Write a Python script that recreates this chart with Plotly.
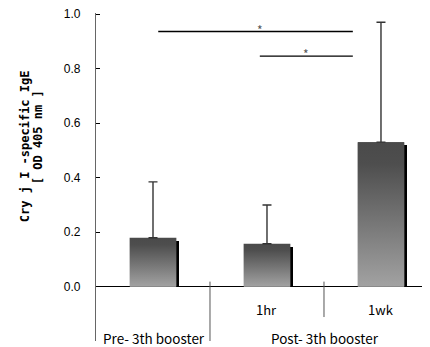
import plotly.graph_objects as go

# ---- data ----
positions = [0, 1, 2]
timepoint_labels = ["", "1hr", "1wk"]
group_labels = ["Pre- 3th booster", "Post- 3th booster"]
group_centers = [0, 1.5]
means = [0.179, 0.157, 0.530]
sd_upper = [0.205, 0.142, 0.440]
y_ticks = [0.0, 0.2, 0.4, 0.6, 0.8, 1.0]
sig_pairs = [(0.046, 1.753, 0.936), (0.937, 1.753, 0.846)]
sig_star_x = [0.937, 1.345]
title_lines = ["Cry j I -specific IgE", "[ OD 405 nm ]"]

BAR_W = 0.41
SHADOW_DX = 0.024
SHADOW_DY = 0.011
PAGE_OFF = 8  # default body margin of the html page

fig = go.Figure()

# shadow bars
fig.add_trace(go.Bar(
    x=positions, y=[m - SHADOW_DY for m in means], width=BAR_W,
    offset=-BAR_W / 2 + SHADOW_DX, marker=dict(color="black", line=dict(width=0)),
    hoverinfo="skip", showlegend=False))

# main bars (base colour)
fig.add_trace(go.Bar(
    x=positions, y=means, width=BAR_W, offset=-BAR_W / 2,
    marker=dict(color="#707070", line=dict(width=0)),
    showlegend=False))

# gradient overlay for each bar (dark top, light bottom)
for p, m in zip(positions, means):
    x0, x1 = p - BAR_W / 2, p + BAR_W / 2
    fig.add_trace(go.Scatter(
        x=[x0, x1, x1, x0, x0], y=[0, 0, m, m, 0], mode="lines",
        line=dict(width=0), fill="toself",
        fillgradient=dict(type="vertical",
                          colorscale=[[0, "#a2a2a2"], [0.85, "#4e4e4e"], [1, "#4a4a4a"]]),
        hoverinfo="skip", showlegend=False))

# error bars (upper only)
fig.add_trace(go.Scatter(
    x=positions, y=means, mode="markers", marker=dict(size=1, opacity=0),
    error_y=dict(type="data", symmetric=False, array=sd_upper,
                 arrayminus=[0, 0, 0], color="#333333", thickness=1.4, width=4.5),
    hoverinfo="skip", showlegend=False))

shapes = []
# group separators
shapes.append(dict(type="line", x0=0.5, x1=0.5, y0=0.018, y1=-0.2,
                   line=dict(color="#555555", width=1)))
shapes.append(dict(type="line", x0=1.5, x1=1.5, y0=0.018, y1=-0.112,
                   line=dict(color="#555555", width=1)))
# significance lines
for xa, xb, yy in sig_pairs:
    shapes.append(dict(type="line", x0=xa, x1=xb, y0=yy, y1=yy,
                       line=dict(color="black", width=1.3)))

annotations = []
for sx, (xa, xb, yy) in zip(sig_star_x, sig_pairs):
    annotations.append(dict(x=sx, y=yy + 0.008, text="*", showarrow=False,
                            xanchor="center", yanchor="middle",
                            font=dict(size=12, color="#555555")))
for p, t in zip(positions, timepoint_labels):
    if t:
        annotations.append(dict(x=p, y=-0.083, text=t, showarrow=False,
                                xanchor="center", yanchor="middle",
                                font=dict(size=13, color="black")))
for c, t in zip(group_centers, group_labels):
    annotations.append(dict(x=c + 0.01, y=-0.189, text=t, showarrow=False,
                            xanchor="center", yanchor="middle",
                            font=dict(size=13.5, color="black")))
# y-axis title, two rotated lines
title_pos = [(25, 0.515), (38, 0.548)]
for (px, yv), t in zip(title_pos, title_lines):
    annotations.append(dict(
        xref="paper", yref="y", x=(px - 96) / 334, y=yv,
        text=f"<b>{t}</b>", textangle=-90, showarrow=False,
        xanchor="center", yanchor="middle",
        font=dict(size=12, color="black", family="DejaVu Sans Mono")))

fig.update_layout(
    width=430, height=347,
    margin=dict(l=96 - PAGE_OFF, r=PAGE_OFF, t=13 - PAGE_OFF, b=6 + PAGE_OFF),
    paper_bgcolor="white", plot_bgcolor="white",
    barmode="overlay", bargap=0,
    font=dict(family="Noto Sans CJK JP, Liberation Sans", size=12, color="black"),
    shapes=shapes, annotations=annotations,
    xaxis=dict(range=[-0.5, 2.43], showline=False, showgrid=False,
               zeroline=False, showticklabels=False, ticks="",
               automargin=False),
    yaxis=dict(range=[-0.2, 1.004], tickvals=y_ticks,
               ticktext=[f"{v:.1f}" for v in y_ticks],
               ticks="inside", ticklen=4, tickcolor="black", tickwidth=1.2,
               showline=True, linecolor="#666666", linewidth=1.3,
               showgrid=False, zeroline=True, zerolinecolor="black",
               zerolinewidth=1.4, ticklabelstandoff=12,
               ticklabeloverflow="allow", automargin=False,
               tickfont=dict(family="Liberation Sans", size=12)),
)

fig.write_html("out.html")
